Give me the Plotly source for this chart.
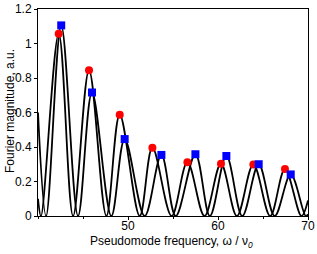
import plotly.graph_objects as go

# Peak markers
red_peak_x = [42.3, 45.67, 49.08, 52.71, 56.6, 60.33, 63.93, 67.44]
red_peak_y = [1.057, 0.845, 0.587, 0.396, 0.312, 0.303, 0.299, 0.272]
blue_peak_x = [42.58, 46.0, 49.63, 53.71, 57.49, 60.93, 64.52, 68.08]
blue_peak_y = [1.105, 0.716, 0.446, 0.354, 0.358, 0.348, 0.300, 0.241]

# Curve nodes (zeros and peaks)
curve1_x = [40, 40.33, 42.3, 43.9, 45.67, 47.6, 49.08, 51.3, 52.71, 54.85,
            56.6, 58.5, 60.33, 62.1, 63.93, 65.8, 67.44, 69.27, 70]
curve1_y = [0.1, 0, 1.057, 0, 0.845, 0, 0.587, 0, 0.396, 0,
            0.312, 0, 0.303, 0, 0.299, 0, 0.272, 0, 0.09]
curve2_x = [40, 40.9, 42.58, 44.45, 46.0, 48.15, 49.63, 51.85, 53.71, 55.3,
            57.49, 59.1, 60.93, 62.7, 64.52, 66.3, 68.08, 69.75, 70]
curve2_y = [0.6, 0, 1.105, 0, 0.716, 0, 0.446, 0, 0.354, 0,
            0.358, 0, 0.348, 0, 0.300, 0, 0.241, 0, 0.01]

x_tickvals = [50, 60, 70]
y_tickvals = [0, 0.2, 0.4, 0.6, 0.8, 1.0, 1.2]
y_ticktext = ["0", "0.2", "0.4", "0.6", "0.8", "1", "1.2"]
x_title = "Pseudomode frequency, ω / ν<sub><i>0</i></sub>"
y_title = "Fourier magnitude, a.u."

fig = go.Figure()
for cx, cy in [(curve1_x, curve1_y), (curve2_x, curve2_y)]:
    fig.add_trace(go.Scatter(x=cx, y=cy, mode="lines",
                             line=dict(color="black", width=1.8, shape="spline"),
                             showlegend=False, hoverinfo="skip"))
fig.add_trace(go.Scatter(x=red_peak_x, y=red_peak_y, mode="markers",
                         marker=dict(symbol="circle", size=8, color="#ff0000",
                                     line=dict(width=0)),
                         showlegend=False))
fig.add_trace(go.Scatter(x=blue_peak_x, y=blue_peak_y, mode="markers",
                         marker=dict(symbol="square", size=8, color="#0000ff",
                                     line=dict(width=0)),
                         showlegend=False))

font = dict(family="Liberation Sans, Arial, sans-serif", size=12, color="black")
fig.update_layout(
    width=317, height=254,
    margin=dict(l=38, r=9, t=9, b=38, autoexpand=False),
    paper_bgcolor="white", plot_bgcolor="white",
    font=font,
    xaxis=dict(range=[40, 70], tickvals=x_tickvals, ticks="outside", ticklen=3,
               tickcolor="black", showline=True, linecolor="black", linewidth=1,
               mirror=True, showgrid=False, zeroline=False,
               ticklabelstandoff=-4,
               minor=dict(tickvals=[40, 45, 55, 65], ticks="outside", ticklen=2,
                          tickcolor="black"),
               tickfont=font),
    yaxis=dict(range=[0, 1.2], tickvals=y_tickvals, ticktext=y_ticktext,
               ticks="outside", ticklen=3, tickcolor="black",
               showline=True, linecolor="black", linewidth=1, mirror=True,
               showgrid=False, zeroline=False, tickfont=font),
    annotations=[
        dict(text=x_title, xref="paper", yref="paper", x=0.4926, y=0,
             xanchor="center", yanchor="middle", yshift=-26, showarrow=False,
             font=font),
        dict(text=y_title, xref="paper", yref="paper", x=0, y=0.5,
             xanchor="center", yanchor="middle", xshift=-28.5, yshift=1,
             textangle=-90, showarrow=False, font=font),
    ],
)
fig.write_html("out.html", config={"displayModeBar": False},
               post_script="document.body.style.margin='0';")
